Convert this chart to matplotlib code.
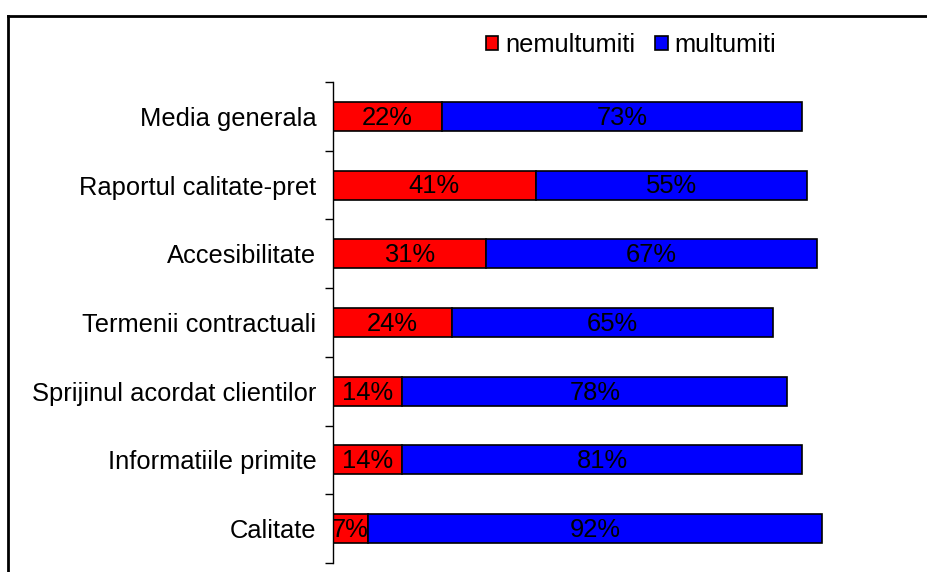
import matplotlib
matplotlib.use("Agg")
import matplotlib.pyplot as plt
import numpy as np

plt.rcParams['font.family'] = ['Liberation Sans', 'DejaVu Sans']

categories = ["Media generala", "Raportul calitate-pret", "Accesibilitate",
              "Termenii contractuali", "Sprijinul acordat clientilor",
              "Informatiile primite", "Calitate"]
nemultumiti = [22, 41, 31, 24, 14, 14, 7]
multumiti = [73, 55, 67, 65, 78, 81, 92]

W, H = 928, 572
fig = plt.figure(figsize=(W / 100, H / 100), dpi=100)

# border around the chart area (only left and top visible)
fig.add_artist(plt.Line2D([8 / W, 8 / W], [0, 1 - 16 / H], color='black', lw=2,
                          transform=fig.transFigure))
fig.add_artist(plt.Line2D([8 / W, 1], [1 - 16 / H, 1 - 16 / H], color='black', lw=2,
                          transform=fig.transFigure))

ax = fig.add_axes([333 / W, 1 - 563 / H, (827 - 333) / W, (563 - 82) / H])

y = np.arange(len(categories))[::-1]
red = np.array(nemultumiti)
blue = np.array(multumiti)
ax.barh(y, red, height=0.42, color='#ff0000', edgecolor='black', lw=1.2)
ax.barh(y, blue, left=red, height=0.42, color='#0000ff', edgecolor='black', lw=1.2)

fs = 18.4
for yi, r, b in zip(y, red, blue):
    ax.text(r / 2, yi - 0.02, f"{r}%", ha='center', va='center', fontsize=fs, color='black')
    ax.text(r + b / 2, yi - 0.02, f"{b}%", ha='center', va='center', fontsize=fs, color='black')

ax.set_xlim(0, 100)
ax.set_ylim(-0.5, len(categories) - 0.5)
ax.set_yticks(y)
ax.set_yticklabels(categories, fontsize=fs)
ax.tick_params(axis='y', which='major', length=0, pad=12)
ax.set_yticks(np.arange(-0.5, len(categories)), minor=True)
ax.tick_params(axis='y', which='minor', length=6, width=1, direction='out')
ax.set_xticks([])
for s in ['top', 'right', 'bottom']:
    ax.spines[s].set_visible(False)
ax.spines['left'].set_linewidth(1)

handles = [plt.Rectangle((0, 0), 1, 1, fc='#ff0000', ec='black', lw=1.2),
           plt.Rectangle((0, 0), 1, 1, fc='#0000ff', ec='black', lw=1.2)]
fig.legend(handles, ["nemultumiti", "multumiti"], loc='center',
           bbox_to_anchor=(631 / W, 1 - 45 / H), ncol=2, frameon=False,
           fontsize=fs, handlelength=0.5, handleheight=0.5, handletextpad=0.25,
           columnspacing=0.8)

fig.savefig("out.png", dpi=100)
